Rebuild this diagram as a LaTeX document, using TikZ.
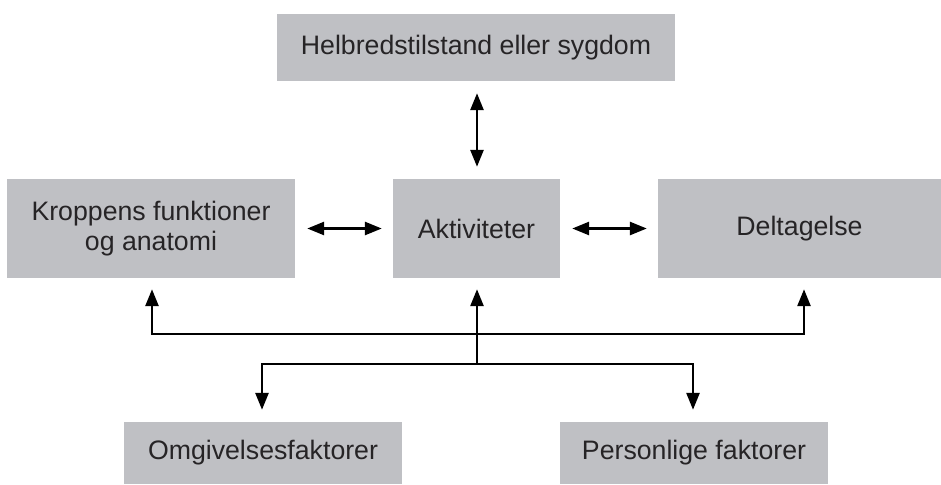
\documentclass[tikz,border=0pt]{standalone}
\usepackage{fontspec}
\setmainfont{Liberation Sans}
\usetikzlibrary{arrows.meta}
\definecolor{boxgray}{RGB}{191,192,196}
\definecolor{txt}{RGB}{38,36,38}
\tikzset{
  box/.style={fill=boxgray, draw=none, inner sep=0pt, align=center, text=txt,
    font=\fontsize{26.7pt}{30pt}\selectfont},
  link/.style={line width=2.7pt, draw=black, line join=miter,
    arrows={Triangle[length=17pt,width=13pt]-Triangle[length=17pt,width=13pt]}},
  uplink/.style={line width=2.7pt, draw=black, line join=miter,
    -{Triangle[length=17pt,width=13pt]}}
}
\begin{document}
\begin{tikzpicture}[x=1pt,y=-1pt]
\useasboundingbox (0,0) rectangle (941,484);
\node[box, minimum width=398pt, minimum height=67pt] (top) at (476,47.5) {Helbredstilstand eller sygdom};
\node[box, minimum width=288pt, minimum height=99pt] (left) at (151,228.5) {Kroppens funktioner\\og anatomi};
\node[box, minimum width=167pt, minimum height=99pt] (mid) at (476.5,228.5) {Aktiviteter};
\node[box, minimum width=283pt, minimum height=99pt] (right) at (799.5,228.5) {Deltagelse};
\node[box, minimum width=278pt, minimum height=62pt] (bl) at (263,453) {Omgivelsesfaktorer};
\node[box, minimum width=268pt, minimum height=62pt] (br) at (694,453) {Personlige faktorer};

\coordinate (J) at (477,334);
\coordinate (K) at (477,364);
\coordinate (JL) at (152,334);
\coordinate (JR) at (804,334);
\coordinate (KL) at (262,364);
\coordinate (KR) at (693,364);

\draw[link, shorten <=12pt, shorten >=12pt] (top.south -| J) -- (mid.north -| J);
\draw[link, shorten <=12pt, shorten >=11pt] (left.east) -- (mid.west);
\draw[link, shorten <=12pt, shorten >=11pt] (mid.east) -- (right.west);

\draw[link, shorten <=11pt, shorten >=11pt] (JL |- left.south) -- (JL) -- (JR) -- (JR |- right.south);
\draw[uplink, shorten >=11pt] (K) -- (J) -- (J |- mid.south);
\draw[link, shorten <=12pt, shorten >=12pt] (KL |- bl.north) -- (KL) -- (KR) -- (KR |- br.north);
\end{tikzpicture}
\end{document}
